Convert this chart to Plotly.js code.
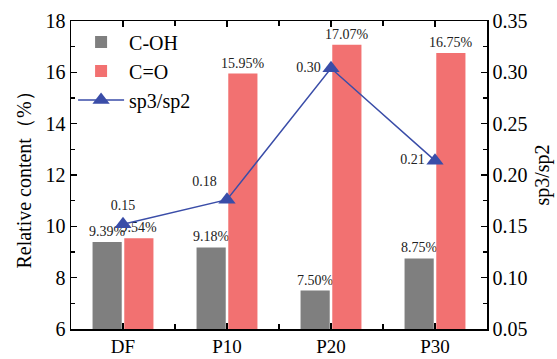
<!DOCTYPE html>
<html>
<head>
<meta charset="utf-8">
<script src="https://cdn.plot.ly/plotly-3.0.1.min.js"></script>
<style>html,body{margin:0;padding:0;background:#fff;}#chart{width:557px;height:359px;}</style>
</head>
<body>
<div id="chart"></div>
<script>
const categories = ['DF', 'P10', 'P20', 'P30'];
const cohValues = [9.39, 9.18, 7.50, 8.75];
const coValues = [9.54, 15.95, 17.07, 16.75];
const ratioValues = [0.152, 0.176, 0.304, 0.214];
const ratioLabels = ['0.15', '0.18', '0.30', '0.21'];
const leftTicks = [6, 8, 10, 12, 14, 16, 18];
const rightTicks = [0.05, 0.10, 0.15, 0.20, 0.25, 0.30, 0.35];

const FONT = '"Liberation Serif", "Times New Roman", Times, serif';
const xIdx = categories.map((c, i) => i);

const traces = [
  {
    type: 'bar', name: 'C-OH', x: xIdx, y: cohValues,
    marker: {color: '#7f7f7f'},
    text: cohValues.map(v => v.toFixed(2) + '%'),
    textposition: 'outside', constraintext: 'none', cliponaxis: false,
    textfont: {family: FONT, size: 14, color: '#222'}
  },
  {
    type: 'bar', name: 'C=O', x: xIdx, y: coValues,
    marker: {color: '#f27171'},
    text: coValues.map(v => v.toFixed(2) + '%'),
    textposition: 'outside', constraintext: 'none', cliponaxis: false,
    textfont: {family: FONT, size: 14, color: '#222'}
  },
  {
    type: 'scatter', name: 'sp3/sp2', x: xIdx, y: ratioValues, yaxis: 'y2',
    mode: 'lines+markers+text',
    line: {color: '#3a4da8', width: 1.5},
    marker: {symbol: 'triangle-up', size: 15, color: '#3a4da8'},
    text: ratioLabels,
    textposition: ['top center', 'top left', 'middle left', 'middle left'],
    textfont: {family: FONT, size: 14, color: '#222'},
    cliponaxis: false
  }
];

const layout = {
  width: 557, height: 359,
  margin: {l: 71, r: 70, t: 21, b: 30},
  paper_bgcolor: '#fff', plot_bgcolor: '#fff',
  font: {family: FONT, size: 19, color: '#000'},
  barmode: 'group', bargap: 0.39, bargroupgap: 0.08,
  showlegend: true,
  legend: {x: 0.005, y: 0.995, xanchor: 'left', yanchor: 'top',
           bgcolor: 'rgba(0,0,0,0)', font: {family: FONT, size: 20},
           itemwidth: 46, tracegroupgap: 0},
  xaxis: {
    range: [-0.5, 3.5], tickmode: 'array', tickvals: xIdx, ticktext: categories,
    showline: true, linecolor: '#000', linewidth: 1.5, mirror: 'ticks',
    ticks: 'inside', ticklen: 6, tickwidth: 1.5, tickcolor: '#000',
    minor: {tickmode: 'array', tickvals: [0.5, 1.5, 2.5], ticks: 'inside', ticklen: 5, tickwidth: 1.5, tickcolor: '#000'},
    showgrid: false, zeroline: false,
    tickfont: {family: FONT, size: 19}
  },
  yaxis: {
    range: [6, 18], tickmode: 'array', tickvals: leftTicks,
    showline: true, linecolor: '#000', linewidth: 1.5,
    ticks: 'inside', ticklen: 6, tickwidth: 1.5, tickcolor: '#000',
    minor: {dtick: 1, ticks: 'inside', ticklen: 4, tickwidth: 1.5, tickcolor: '#000'},
    showgrid: false, zeroline: false,
    tickfont: {family: FONT, size: 20},
    title: {text: 'Relative content（%）', font: {family: FONT, size: 20}, standoff: 8}
  },
  yaxis2: {
    overlaying: 'y', side: 'right',
    range: [0.05, 0.35], tickmode: 'array', tickvals: rightTicks, tickformat: '.2f',
    showline: true, linecolor: '#000', linewidth: 1.5,
    ticks: 'inside', ticklen: 6, tickwidth: 1.5, tickcolor: '#000',
    minor: {dtick: 0.025, tick0: 0.05, ticks: 'inside', ticklen: 4, tickwidth: 1.5, tickcolor: '#000'},
    showgrid: false, zeroline: false,
    tickfont: {family: FONT, size: 20},
    title: {text: 'sp3/sp2', font: {family: FONT, size: 20}, standoff: 8}
  }
};

Plotly.newPlot('chart', traces, layout, {displayModeBar: false, staticPlot: true});
</script>
</body>
</html>
